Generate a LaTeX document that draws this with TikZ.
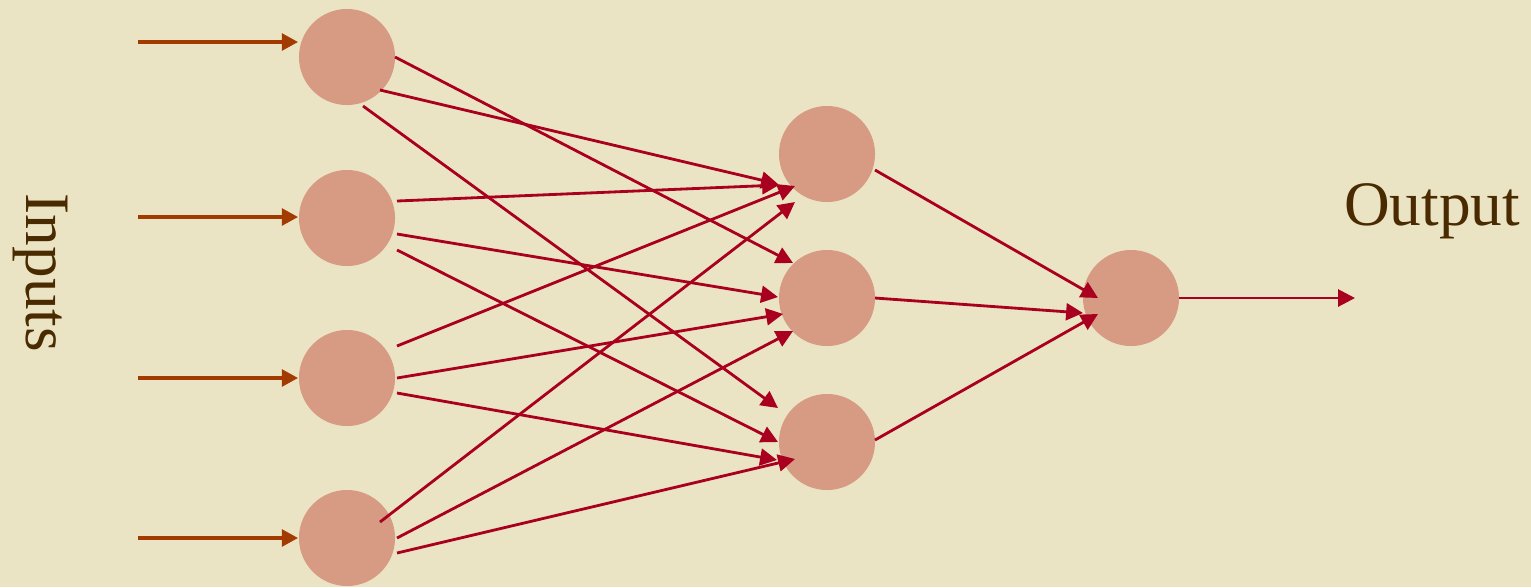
\documentclass[tikz,border=0pt]{standalone}
\usepackage{fontspec}
\setmainfont{Liberation Serif}
\usetikzlibrary{arrows.meta,calc}
\definecolor{bgbeige}{HTML}{EAE4C4}
\definecolor{neuron}{HTML}{D79A82}
\definecolor{linkred}{HTML}{A8001E}
\definecolor{inbrown}{HTML}{A33A00}
\definecolor{txtbrown}{HTML}{4A2A00}
\tikzset{
  neuronnode/.style={circle,fill=neuron,draw=none,minimum size=0.96cm,inner sep=0pt},
  conn/.style={draw=linkred,line width=0.8pt,-{Triangle[length=4.8pt,width=4.8pt]}},
  inarrow/.style={draw=inbrown,line width=0.9pt,-{Triangle[length=4.6pt,width=4.8pt]}},
  label/.style={text=txtbrown,font=\fontsize{18}{20}\selectfont,inner sep=0pt}
}
\begin{document}
\begin{tikzpicture}[x=0.01cm,y=-0.01cm]
\fill[bgbeige] (0,0) rectangle (1531,587);
\useasboundingbox (0,0) rectangle (1531,587);
% neurons
\node[neuronnode] (i1) at (347,57) {};
\node[neuronnode] (i2) at (347,218) {};
\node[neuronnode] (i3) at (347,378) {};
\node[neuronnode] (i4) at (347,538) {};
\node[neuronnode] (h1) at (827,154) {};
\node[neuronnode] (h2) at (827,298) {};
\node[neuronnode] (h3) at (827,442) {};
\node[neuronnode] (o) at (1131,298) {};
% labels
\node[label,rotate=-90] (inputs) at (40,273) {Inputs};
\node[label] (output) at (1432,211) {Output};
% input arrows
\coordinate (in1) at (138,42);
\coordinate (in2) at (138,217);
\coordinate (in3) at (138,378);
\coordinate (in4) at (138,538);
\draw[inarrow] (in1) -- ($(i1)+(-49,-15)$);
\draw[inarrow] (in2) -- ($(i2)+(-49,-1)$);
\draw[inarrow] (in3) -- ($(i3)+(-49,0)$);
\draw[inarrow] (in4) -- ($(i4)+(-49,0)$);
% input to hidden
\draw[conn] ($(i1)+(48,0)$) -- ($(h2)+(-34,-35)$);
\draw[conn] ($(i1)+(33,33)$) -- ($(h1)+(-49,30)$);
\draw[conn] ($(i1)+(16,49)$) -- ($(h3)+(-49,-34)$);
\draw[conn] ($(i2)+(50,-17)$) -- ($(h1)+(-48,31)$);
\draw[conn] ($(i2)+(50,16)$) -- ($(h2)+(-49,-1)$);
\draw[conn] ($(i2)+(50,32)$) -- ($(h3)+(-49,0)$);
\draw[conn] ($(i3)+(50,-32)$) -- ($(h1)+(-32,32)$);
\draw[conn] ($(i3)+(50,0)$) -- ($(h2)+(-44,16)$);
\draw[conn] ($(i3)+(50,15)$) -- ($(h3)+(-50,18)$);
\draw[conn] ($(i4)+(33,-16)$) -- ($(h1)+(-32,48)$);
\draw[conn] ($(i4)+(50,0)$) -- ($(h2)+(-34,33)$);
\draw[conn] ($(i4)+(50,15)$) -- ($(h3)+(-32,17)$);
% hidden to output
\draw[conn] ($(h1)+(48,16)$) -- ($(o)+(-33,0)$);
\draw[conn] ($(h2)+(48,0)$) -- ($(o)+(-48,15)$);
\draw[conn] ($(h3)+(48,-2)$) -- ($(o)+(-33,16)$);
% output arrow
\coordinate (out) at (1355,298);
\draw[conn] ($(o)+(48,0)$) -- (out);
\end{tikzpicture}
\end{document}
